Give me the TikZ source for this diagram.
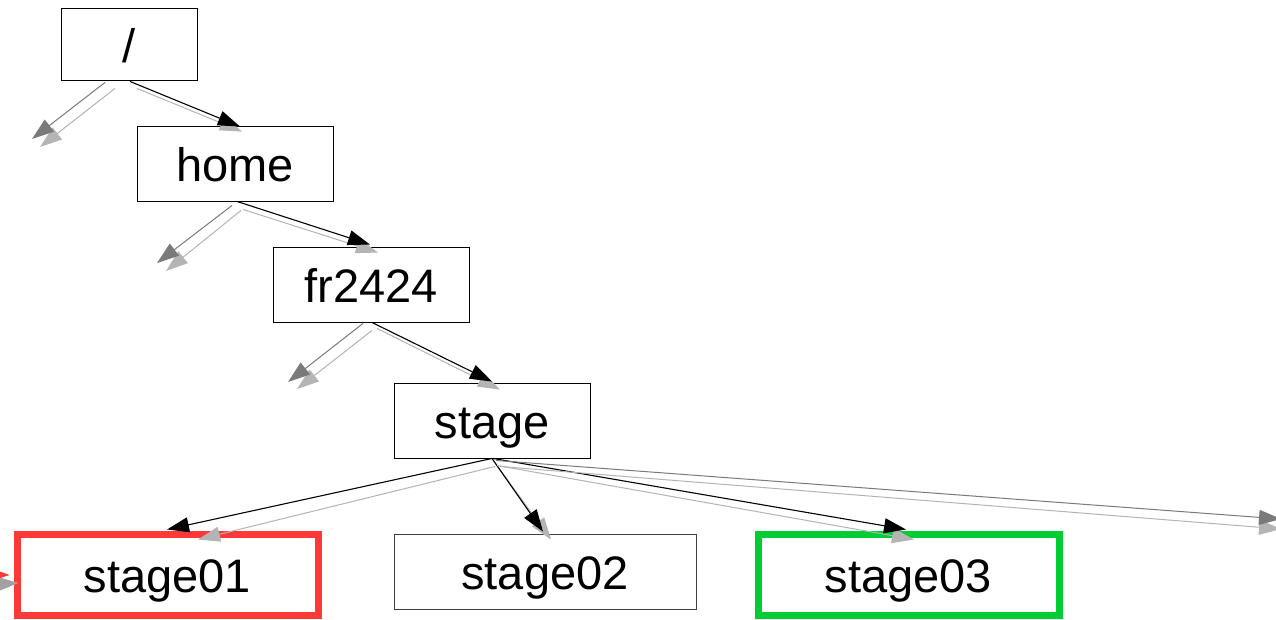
\documentclass[tikz,border=0pt]{standalone}
\usepackage{fontspec}
\setmainfont{Liberation Sans}
\usetikzlibrary{arrows.meta,calc}
\definecolor{redb}{HTML}{FF3838}
\definecolor{greenb}{HTML}{00CC33}
\definecolor{darkg}{HTML}{7A7A7A}
\definecolor{lightg}{HTML}{B4B4B4}
\begin{document}
\begin{tikzpicture}[x=1pt,y=-1pt,
  box/.style={draw=black, line width=0.9pt, inner sep=0pt, text=black,
    font=\fontsize{47}{50}\selectfont, text height=40pt, text depth=4pt},
  hl/.style={box, draw=redb, line width=7pt},
  okbox/.style={box, draw=greenb, line width=7pt},
  graybox/.style={box, draw=black!75},
  tip/.style={-{Triangle[length=22pt,width=15pt]}},
  blk/.style={tip, draw=black, line width=1.1pt},
  dkg/.style={tip, draw=darkg, line width=1pt},
  ltg/.style={tip, draw=lightg, line width=1pt},
  red/.style={tip, draw=redb, line width=1pt}
]
\useasboundingbox (0,0) rectangle (1276,619);
\fill[white] (0,0) rectangle (1276,619);

\node[box, minimum width=136pt, minimum height=72pt] (root) at (129,44) {/};
\node[box, minimum width=196pt, minimum height=75pt] (home) at (235,163.5) {home};
\node[box, minimum width=196pt, minimum height=75pt] (fr) at (371,284.5) {fr2424};
\node[box, minimum width=196pt, minimum height=75pt] (stage) at (492,420.5) {stage};
\node[hl, minimum width=301pt, minimum height=81pt] (s1) at (167.5,574.5) {stage01};
\node[graybox, minimum width=302pt, minimum height=75pt] (s2) at (545,571.5) {stage02};
\node[okbox, minimum width=301pt, minimum height=81pt] (s3) at (908.5,574.5) {stage03};

% free ends
\coordinate (rl1) at (32,139);
\coordinate (rl2) at (40,147);
\coordinate (hl1) at (157,263);
\coordinate (hl2) at (166,271);
\coordinate (fl1) at (288,382);
\coordinate (fl2) at (297,389);
\coordinate (sr1) at (1281,519);
\coordinate (sr2) at (1281,529);
\coordinate (in1) at (-60,574);
\coordinate (in2) at (-60,587);

% root
\draw[ltg] ($(root.south)+(8,8)$) -- ($(home.north)+(7,6)$);
\draw[blk] ($(root.south)+(1,1)$) -- ($(home.north)+(5,1)$);
\draw[ltg] ($(root.south)+(-14,8)$) -- (rl2);
\draw[dkg] ($(root.south)+(-24,2)$) -- (rl1);

% home
\draw[ltg] ($(home.south)+(8,8)$) -- ($(fr.north)+(7,6)$);
\draw[blk] ($(home.south)+(2,0)$) -- ($(fr.north)+(-1,-2)$);
\draw[ltg] ($(home.south)+(6,9)$) -- (hl2);
\draw[dkg] ($(home.south)+(-3,4)$) -- (hl1);

% fr2424
\draw[ltg] ($(fr.south)+(6,6)$) -- ($(stage.north)+(8,7)$);
\draw[blk] ($(fr.south)+(1,0)$) -- ($(stage.north)+(0,-1)$);
\draw[ltg] ($(fr.south)+(1,8)$) -- (fl2);
\draw[dkg] ($(fr.south)+(-8,1)$) -- (fl1);

% stage
\draw[ltg] ($(stage.south)+(3,8)$) -- ($(s1.north)+(30.5,9)$);
\draw[blk] (stage.south) -- ($(s1.north)+(-0.5,-1)$);
\draw[ltg] ($(stage.south)+(2,3)$) -- ($(s2.north)+(6,6)$);
\draw[blk] (stage.south) -- ($(s2.north)+(-2,-2)$);
\draw[ltg] ($(stage.south)+(5,7)$) -- ($(s3.north)+(5.5,9)$);
\draw[blk] ($(stage.south)+(1,0)$) -- ($(s3.north)+(-2.5,-1)$);
\draw[ltg] ($(stage.south)+(8,8)$) -- (sr2);
\draw[dkg] ($(stage.south)+(4,2)$) -- (sr1);

% incoming to stage01
\draw[ltg, draw=lightg!90!black] (in2) -- ($(s1.west)+(5,8.5)$);
\draw[red] (in1) -- ($(s1.west)+(-4,0.5)$);
\end{tikzpicture}
\end{document}
